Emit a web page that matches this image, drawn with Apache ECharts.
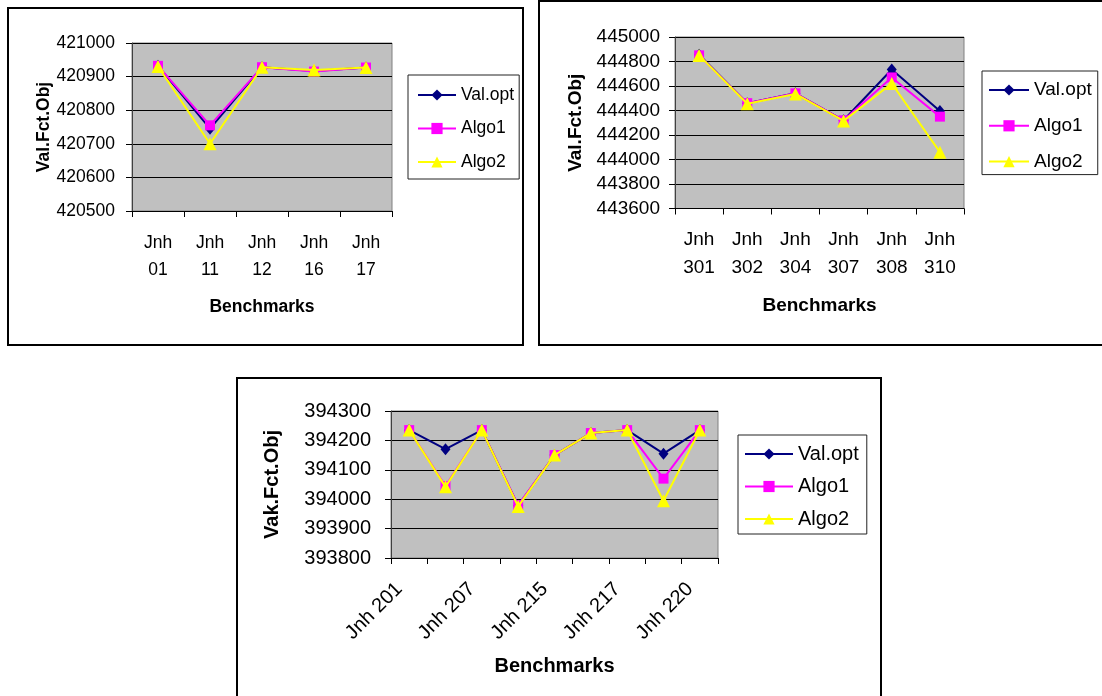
<!DOCTYPE html>
<html><head><meta charset="utf-8">
<script src="https://cdn.jsdelivr.net/npm/echarts@6/dist/echarts.min.js"></script>
<style>html,body{margin:0;padding:0;background:#fff}#c{width:1102px;height:696px}</style>
</head><body><div id="c"></div>
<script>
// ---- data ----
const seriesNames = ['Val.opt', 'Algo1', 'Algo2'];

const cats1 = ['Jnh 01', 'Jnh 11', 'Jnh 12', 'Jnh 16', 'Jnh 17'];
const valopt1 = [420932, 420745, 420928, 420917, 420927];
const algo1_1 = [420932, 420755, 420928, 420915, 420927];
const algo2_1 = [420930, 420700, 420928, 420920, 420927];
const yRange1 = [420500, 421000, 100];
const yName1 = 'Val.Fct.Obj';

const cats2 = ['Jnh 301', 'Jnh 302', 'Jnh 304', 'Jnh 307', 'Jnh 308', 'Jnh 310'];
const valopt2 = [444855, 444460, 444540, 444320, 444735, 444395];
const algo1_2 = [444850, 444460, 444540, 444320, 444670, 444350];
const algo2_2 = [444850, 444455, 444535, 444315, 444620, 444060];
const yRange2 = [443600, 445000, 200];
const yName2 = 'Val.Fct.Obj';

const cats3 = ['Jnh 201', 'Jnh 205', 'Jnh 207', 'Jnh 212', 'Jnh 215', 'Jnh 216', 'Jnh 217', 'Jnh 218', 'Jnh 220'];
const valopt3 = [394235, 394170, 394235, 393978, 394150, 394225, 394235, 394155, 394235];
const algo1_3 = [394235, 394045, 394235, 393980, 394150, 394225, 394235, 394070, 394235];
const algo2_3 = [394235, 394042, 394235, 393975, 394150, 394225, 394235, 393995, 394235];
const yRange3 = [393800, 394300, 100];
const yName3 = 'Vak.Fct.Obj';

const xName = 'Benchmarks';

// ---- styling ----
const FONT = '"Liberation Sans", Arial, sans-serif';
const colors = ['#000080', '#ff00ff', '#ffff00'];
const symbols = ['diamond', 'rect', 'triangle'];
const symbolSizes = [[10, 12], 10, 13];

const panels = [
  { cats: cats1, data: [valopt1, algo1_1, algo2_1], y: yRange1, yName: yName1,
    grid: { left: 132, top: 43, width: 260, height: 168 }, fs: 17.5,
    yMargin: 17, yGap: 78, xGap: 87, xMargin: 18, lh: 27.5, twoLine: true,
    legend: { left: 408, top: 75, itemWidth: 38, lh: 20, gap: 13.5, padding: [10, 5, 7, 9] } },
  { cats: cats2, data: [valopt2, algo1_2, algo2_2], y: yRange2, yName: yName2,
    grid: { left: 675, top: 37, width: 289, height: 171.5 }, fs: 19,
    yMargin: 15, yGap: 90, xGap: 88, xMargin: 18, lh: 27.5, twoLine: true,
    legend: { left: 982, top: 71, itemWidth: 40, lh: 22, gap: 13.8, padding: [8, 6, 2, 6] } },
  { cats: cats3, data: [valopt3, algo1_3, algo2_3], y: yRange3, yName: yName3,
    grid: { left: 391, top: 411, width: 327, height: 147 }, fs: 20,
    yMargin: 20, yGap: 109, xGap: 98, xMargin: 18, lh: 22, twoLine: false,
    legend: { left: 738, top: 435, itemWidth: 48, lh: 22, gap: 10.5, padding: [8, 8, 4, 6] } }
];

const option = {
  backgroundColor: '#ffffff',
  animation: false,
  grid: [], xAxis: [], yAxis: [], series: [], legend: [],
  graphic: [
    { type: 'rect', shape: { x: 8, y: 8, width: 515, height: 337 }, style: { fill: 'none', stroke: '#000', lineWidth: 2 } },
    { type: 'rect', shape: { x: 539, y: 1, width: 620, height: 344 }, style: { fill: 'none', stroke: '#000', lineWidth: 2 } },
    { type: 'rect', shape: { x: 237, y: 378, width: 644, height: 340 }, style: { fill: 'none', stroke: '#000', lineWidth: 2 } }
  ]
};

panels.forEach((p, i) => {
  option.grid.push(Object.assign({
    show: true, backgroundColor: '#c0c0c0', borderColor: '#808080', borderWidth: 1, containLabel: false
  }, p.grid));
  option.xAxis.push({
    type: 'category', gridIndex: i, data: p.cats, boundaryGap: true,
    name: xName, nameLocation: 'middle', nameGap: p.xGap,
    nameTextStyle: { fontFamily: FONT, fontSize: p.fs, fontWeight: 'bold', color: '#000' },
    axisLine: { show: true, lineStyle: { color: '#000', width: 1 } },
    axisTick: { show: true, interval: 0, length: 6, lineStyle: { color: '#000' } },
    axisLabel: p.twoLine ? {
      interval: 0, margin: p.xMargin, fontFamily: FONT, fontSize: p.fs, lineHeight: p.lh, color: '#000',
      formatter: v => v.replace(' ', '\n')
    } : {
      interval: 1, rotate: 45, margin: p.xMargin, padding: [0, 14, 0, 0],
      fontFamily: FONT, fontSize: p.fs, color: '#000'
    },
    splitLine: { show: false }
  });
  option.yAxis.push({
    type: 'value', gridIndex: i, min: p.y[0], max: p.y[1], interval: p.y[2],
    name: p.yName, nameLocation: 'middle', nameRotate: 90, nameGap: p.yGap,
    nameTextStyle: { fontFamily: FONT, fontSize: p.fs, fontWeight: 'bold', color: '#000' },
    axisLine: { show: true, lineStyle: { color: '#404040', width: 1 } },
    axisTick: { show: true, length: 6, lineStyle: { color: '#000' } },
    axisLabel: { margin: p.yMargin, fontFamily: FONT, fontSize: p.fs, color: '#000',
      formatter: v => String(v) },
    splitLine: { show: true, lineStyle: { color: '#000', width: 1 } }
  });
  p.data.forEach((d, k) => {
    option.series.push({
      type: 'line', name: seriesNames[k], xAxisIndex: i, yAxisIndex: i, data: d,
      symbol: symbols[k], symbolSize: symbolSizes[k], showAllSymbol: true,
      itemStyle: { color: colors[k] },
      lineStyle: { color: colors[k], width: 2 },
      z: 2 + k
    });
  });
  option.legend.push({
    orient: 'vertical', left: p.legend.left, top: p.legend.top,
    data: seriesNames, itemWidth: p.legend.itemWidth, itemHeight: 14,
    itemGap: p.legend.gap - 0, padding: p.legend.padding,
    borderColor: '#222', borderWidth: 1, backgroundColor: '#fff',
    textStyle: { fontFamily: FONT, fontSize: p.fs, color: '#000', lineHeight: p.legend.lh },
    selectedMode: false
  });
});

const chart = echarts.init(document.getElementById('c'), null, { renderer: 'canvas' });
chart.setOption(option);
</script></body></html>
